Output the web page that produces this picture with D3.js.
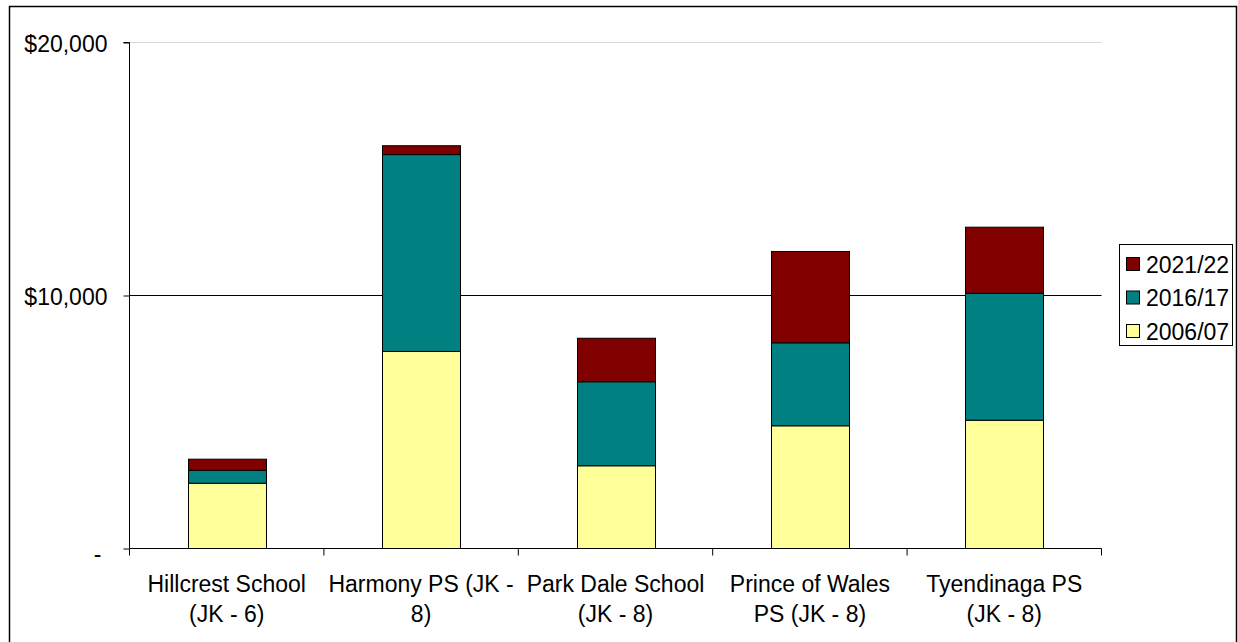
<!DOCTYPE html>
<html><head><meta charset="utf-8">
<script src="https://cdn.jsdelivr.net/npm/d3@7"></script>
<style>
html,body{margin:0;padding:0;background:#fff;}
svg{display:block;font-family:"Liberation Sans",Arial,sans-serif;}
</style></head>
<body><svg id="c" width="1238" height="642"></svg>
<script>
const categories = ["Hillcrest School (JK - 6)", "Harmony PS (JK - 8)", "Park Dale School (JK - 8)", "Prince of Wales PS (JK - 8)", "Tyendinaga PS (JK - 8)"];
const labelLines = [["Hillcrest School","(JK - 6)"],["Harmony PS (JK -","8)"],["Park Dale School","(JK - 8)"],["Prince of Wales","PS (JK - 8)"],["Tyendinaga PS","(JK - 8)"]];
const seriesNames = ["2006/07","2016/17","2021/22"];
const v2006 = [2580, 7790, 3270, 4850, 5070];
const v2016 = [510, 7780, 3320, 3280, 5020];
const v2021 = [440, 350, 1720, 3610, 2610];
const colors = ["#FFFF99","#008080","#800000"];
const yTicks = [0, 10000, 20000];
const yTickLabels = ["-", "$10,000", "$20,000"];

const FS = 23;
const svg = d3.select("#c");
svg.append("rect").attr("x",9.5).attr("y",6.5).attr("width",1227).attr("height",640).attr("fill","#fff").attr("stroke","#000").attr("stroke-width",1.5);

const x0=129.5, x1=1101.5, y0=548.5, yTop=42.5;
const x = d3.scaleBand().domain(categories).range([x0,x1]).paddingInner(0).paddingOuter(0);
const y = d3.scaleLinear().domain([0,20000]).range([y0,yTop]);

// gridlines
svg.append("line").attr("x1",x0).attr("x2",x1).attr("y1",y(20000)).attr("y2",y(20000)).attr("stroke","#d9d9d9").attr("stroke-width",1);
svg.append("line").attr("x1",x0).attr("x2",x1).attr("y1",y(10000)).attr("y2",y(10000)).attr("stroke","#000").attr("stroke-width",1);

const data = categories.map((c,i)=>({cat:c, "2006/07":v2006[i], "2016/17":v2016[i], "2021/22":v2021[i]}));
const stack = d3.stack().keys(seriesNames)(data);
const bw = x.bandwidth()*0.40;
stack.forEach((s,si)=>{
  svg.append("g").selectAll("rect").data(s).join("rect")
    .attr("x",d=>Math.round(x(d.data.cat)+(x.bandwidth()-bw)/2)+0.5)
    .attr("width",Math.round(bw))
    .attr("y",d=>y(d[1]))
    .attr("height",d=>y(d[0])-y(d[1]))
    .attr("fill",colors[si]).attr("stroke","#000").attr("stroke-width",1);
});

// y axis
const yAxis = d3.axisLeft(y).tickValues(yTicks).tickFormat((d,i)=>yTickLabels[i]).tickSize(6).tickPadding(16);
const gy = svg.append("g").attr("transform",`translate(${x0},0)`).call(yAxis);
gy.select(".domain").attr("d",`M-6,${yTop}H0V${y0}`).attr("stroke","#000");
gy.selectAll(".tick line").attr("stroke","#000");
gy.selectAll("text").attr("font-size",FS).attr("fill","#000").attr("font-family","Liberation Sans, Arial, sans-serif").attr("dy","0.4em");
gy.selectAll(".tick").filter(d=>d===0).select("text").attr("dx",-6).attr("dy","0.55em");

// x axis
const gx = svg.append("g").attr("transform",`translate(0,${y0})`);
gx.append("line").attr("x1",x0).attr("x2",x1).attr("stroke","#000");
const bounds = categories.map(c=>x(c)).concat([x1]);
gx.selectAll("line.t").data(bounds).join("line").attr("class","t")
  .attr("x1",d=>d).attr("x2",d=>d).attr("y1",0).attr("y2",7).attr("stroke","#000");
const lbl = gx.selectAll("text.l").data(categories).join("text").attr("class","l")
  .attr("text-anchor","middle").attr("font-size",FS).attr("fill","#000");
lbl.each(function(c,i){
  const t=d3.select(this);
  labelLines[i].forEach((ln,j)=>{
    t.append("tspan").attr("x",x(c)+x.bandwidth()/2).attr("y",43.5+j*30).text(ln);
  });
});

// legend
const lg = svg.append("g");
lg.append("rect").attr("x",1119.5).attr("y",244.5).attr("width",113).attr("height",101).attr("fill","#fff").attr("stroke","#000").attr("stroke-width",1);
const legendOrder = ["2021/22","2016/17","2006/07"];
legendOrder.forEach((n,i)=>{
  const cy = 264 + i*33.5;
  lg.append("rect").attr("x",1126.5).attr("y",cy-6.5).attr("width",13).attr("height",13)
    .attr("fill",colors[seriesNames.indexOf(n)]).attr("stroke","#000");
  lg.append("text").attr("x",1146).attr("y",cy+8.5).attr("font-size",FS).attr("fill","#000").text(n);
});
</script></body></html>
